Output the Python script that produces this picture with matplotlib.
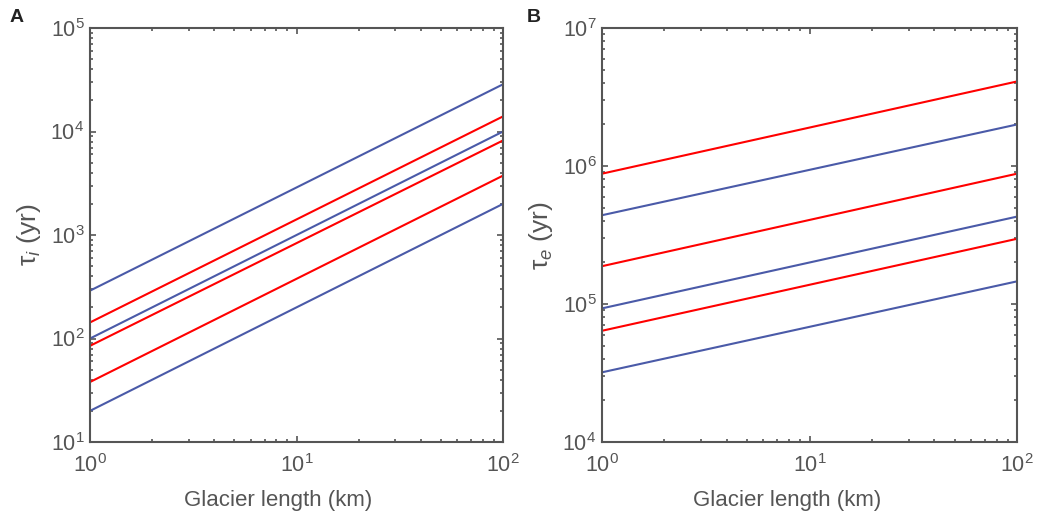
import numpy as np
import matplotlib.pyplot as plt
from matplotlib.ticker import LogLocator, NullFormatter

plt.rcParams['font.family'] = ['Liberation Sans', 'DejaVu Sans']
plt.rcParams['mathtext.fontset'] = 'custom'
plt.rcParams['mathtext.rm'] = 'Liberation Sans'
plt.rcParams['mathtext.it'] = 'Liberation Sans:italic'

# Glacier length (km), endpoints of each straight log-log line
length = [1, 100]

# Panel A: tau_i (yr) at L = 1 and L = 100 km
tau_i_blue = [[290, 28600], [100, 10000], [20, 2000]]
tau_i_red = [[143, 14000], [85, 8200], [38, 3750]]

# Panel B: tau_e (yr) at L = 1 and L = 100 km
tau_e_blue = [[440000, 2.0e6], [93000, 430000], [32000, 146000]]
tau_e_red = [[880000, 4.1e6], [188000, 880000], [64000, 297000]]

BLUE = "#4a5aa8"
RED = "#ff0000"
GREY = "#555555"

fig = plt.figure(figsize=(10.55, 5.14), dpi=100)
axA = fig.add_axes([0.0853, 0.140, 0.3915, 0.8055])
axB = fig.add_axes([0.5706, 0.140, 0.3934, 0.8055])


def style(ax, ylim, ylabel, xlab_x):
    ax.set_xscale("log")
    ax.set_yscale("log")
    ax.set_xlim(1, 100)
    ax.set_ylim(*ylim)
    for s in ax.spines.values():
        s.set_color(GREY)
        s.set_linewidth(1.5)
    ax.tick_params(which="both", direction="in", top=True, right=True,
                   color=GREY, labelcolor=GREY, labelsize=15.5, width=1.2)
    ax.tick_params(which="major", length=4)
    ax.tick_params(which="minor", length=2.5)
    ax.tick_params(axis="x", which="major", pad=9)
    ax.tick_params(axis="y", which="major", pad=4)
    ax.yaxis.set_minor_locator(LogLocator(base=10, subs=np.arange(2, 10), numticks=20))
    ax.yaxis.set_minor_formatter(NullFormatter())
    ax.set_xlabel("Glacier length (km)", fontsize=16, color=GREY, labelpad=9,
                  x=xlab_x, ha="center")
    ax.set_ylabel(ylabel, fontsize=19, color=GREY, labelpad=5)


for vals in tau_i_blue:
    axA.plot(length, vals, color=BLUE, lw=1.5)
for vals in tau_i_red:
    axA.plot(length, vals, color=RED, lw=1.5)
style(axA, (10, 1e5), r"$\mathrm{\tau}_{i}$ (yr)", 0.456)

for vals in tau_e_blue:
    axB.plot(length, vals, color=BLUE, lw=1.5)
for vals in tau_e_red:
    axB.plot(length, vals, color=RED, lw=1.5)
style(axB, (1e4, 1e7), r"$\mathrm{\tau}_{e}$ (yr)", 0.445)

fig.text(0.009, 0.957, "A", fontsize=14, fontweight="bold", color="#222222")
fig.text(0.499, 0.957, "B", fontsize=14, fontweight="bold", color="#222222")

fig.savefig("out.png", dpi=100)
